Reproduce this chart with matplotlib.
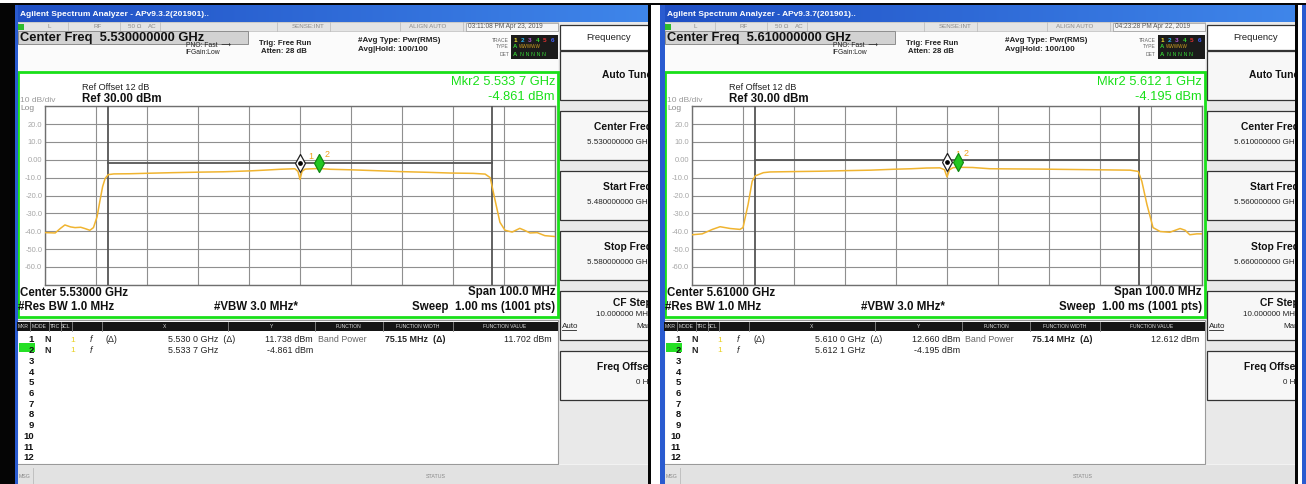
import numpy as np
import matplotlib
matplotlib.use("Agg")
import matplotlib.pyplot as plt
from matplotlib.patches import Rectangle
from matplotlib.colors import LinearSegmentedColormap

plt.rcParams['font.family'] = ['Liberation Sans', 'DejaVu Sans']

W, H = 1306, 484
DX = 647          # horizontal shift of the second screenshot (px)

center_ghz  = [5.530, 5.610]
start_ghz   = ["5.480000000 GHz", "5.560000000 GHz"]
stop_ghz    = ["5.580000000 GHz", "5.660000000 GHz"]
span_mhz    = 100.0
versions    = ["APv9.3.2(201901)..", "APv9.3.7(201901).."]
timestamps  = ["03:11:08 PM Apr 23, 2019", "04:23:28 PM Apr 22, 2019"]
mkr1_x      = ["5.530 0 GHz", "5.610 0 GHz"]
mkr1_y      = ["11.738 dBm", "12.660 dBm"]
mkr2_x      = ["5.533 7 GHz", "5.612 1 GHz"]
mkr2_ghz    = [5.5337, 5.6121]
mkr2_dbm    = [-4.861, -4.195]
bp_width    = [75.15, 75.14]
bp_value    = [11.702, 12.612]
bp_line_dbm = [-1.8, -0.3]

# trace: offset from start frequency (MHz) and level (dBm)
left_off = [0, 1, 2, 3, 3.9, 5, 5.9, 7, 7.8, 8.8, 9.5, 10.2, 10.8, 11.3, 11.8,
            12.4, 13.5, 16.7, 20.6, 25, 30.4, 35, 40.2, 43, 46.1, 49, 49.6, 50,
            50.4, 51, 53.7, 55.9, 60, 65, 69.6, 75, 79.4, 84, 86.3, 87.3, 88.2,
            89.2, 90.2, 91.6, 93.1, 94, 95.1, 96.5, 98, 100]
left_dbm = [-40.8, -40.9, -41.0, -38.5, -36.5, -37.6, -38.0, -37.8, -38.5, -39.5,
            -38.0, -32, -22.5, -15, -10.4, -8.3, -7.9, -7.8, -7.5, -7.2, -6.9,
            -6.7, -6.2, -5.8, -5.3, -5.0, -6.5, -11.0, -6.5, -5.2, -4.86, -5.3,
            -5.6, -6.1, -6.6, -7.0, -7.4, -7.6, -8.0, -10.0, -22, -35, -39.5,
            -40.5, -38.4, -39.5, -41, -40.8, -42.5, -43]
right_off = [0, 2, 4, 5.5, 7.5, 9.4, 10, 11, 11.8, 12.4, 14, 15.3, 19.8, 25, 29.6,
             35, 39.4, 43, 46, 48.6, 49.5, 50, 50.5, 51.2, 52.1, 55, 58.4, 63,
             68.2, 74, 80, 85.9, 87.5, 88.2, 89.2, 90.4, 91.8, 93.7, 95.7, 96.7,
             97.6, 99, 100]
right_dbm = [-42, -41.5, -39, -37.5, -38.5, -39, -38, -25, -12, -9, -7.2, -6.8,
             -6.6, -6.4, -6.1, -5.8, -5.3, -5.0, -4.6, -4.5, -5.5, -9.6, -5.5,
             -4.4, -4.195, -4.3, -5.0, -5.1, -5.2, -5.4, -5.6, -5.8, -6.5, -12,
             -25, -38, -40.2, -40.6, -38.5, -39.5, -42, -41.5, -41.5]
traces = [(left_off, left_dbm), (right_off, right_dbm)]

REF, DIV = 30.0, 10.0
TRACE_C = "#f0b430"
GREEN = "#19e019"

fig = plt.figure(figsize=(W / 100, H / 100), dpi=100)
fig.patch.set_facecolor("white")
ax = fig.add_axes([0, 0, 1, 1])
ax.set_xlim(0, W)
ax.set_ylim(H, 0)
ax.axis("off")

title_cmap = LinearSegmentedColormap.from_list("tb", ["#1f4fc4", "#3f86ea"])


def rect(x0, y0, x1, y1, fc="none", ec="none", lw=0.8, z=1):
    ax.add_patch(Rectangle((x0, y0), x1 - x0, y1 - y0, fc=fc, ec=ec, lw=lw, zorder=z))


def txt(x, y, s, size, z=5, **kw):
    kw.setdefault("va", "center")
    ax.text(x, y, s, fontsize=size, zorder=z, **kw)


def draw_screen(i, ox):
    # window title bar
    grad = np.linspace(0, 1, 256).reshape(1, -1)
    ax.imshow(grad, extent=(ox + 15, ox + 650, 22, 5), cmap=title_cmap, aspect="auto", zorder=1)
    txt(ox + 20, 14, "Agilent Spectrum Analyzer - " + versions[i], 6.0, color="white", weight="bold")
    # screen body
    rect(ox + 15, 22, ox + 650, H, fc="#f2f2f2", z=0.5)
    rect(ox + 15, 5, ox + 18, H, fc="#2a5bd0", z=2)
    # status row
    rect(ox + 18, 22, ox + 558, 31, fc="#e4e4e4", ec="#bdbdbd", lw=0.5)
    rect(ox + 18, 23.5, ox + 24, 29.5, fc="#2dbb2d", z=2)
    for sx in [68, 120, 160, 277, 330, 400, 463]:
        ax.plot([ox + sx, ox + sx], [22, 31], color="#b8b8b8", lw=0.5, zorder=2)
    for sx, s in [(47, "L"), (93, "RF"), (128, "50 Ω"), (148, "AC"), (292, "SENSE:INT"), (409, "ALIGN AUTO")]:
        txt(ox + sx, 26.5, s, 4.5, color="#8a8a8a")
    rect(ox + 466, 23, ox + 558, 31, fc="#f6f6f6", ec="#9a9a9a", lw=0.5, z=2)
    txt(ox + 468, 27, timestamps[i], 4.7, color="#555555")
    # header area
    rect(ox + 17, 31, ox + 558, 71, fc="#fbfbfb", z=0.8)
    rect(ox + 18, 30.5, ox + 248, 43.5, fc="#d2d2d2", ec="#8e8e8e", lw=0.7, z=2)
    txt(ox + 20, 37.5, "Center Freq  %.9f GHz" % center_ghz[i], 9.3, weight="bold", color="#111111")
    txt(ox + 186, 45.5, "PNO: Fast  ⟶", 4.9, color="#222222")
    txt(ox + 185, 52.5, "IFGain:Low", 4.9, color="#222222")
    txt(ox + 259, 43.5, "Trig: Free Run", 5.6, weight="bold", color="#222222")
    txt(ox + 261, 51.5, "Atten: 28 dB", 5.6, weight="bold", color="#222222")
    txt(ox + 358, 40, "#Avg Type: Pwr(RMS)", 5.8, weight="bold", color="#222222")
    txt(ox + 358, 49.5, "Avg|Hold: 100/100", 5.8, weight="bold", color="#222222")
    for yy, s in [(40, "TRACE"), (47, "TYPE"), (54.5, "DET")]:
        txt(ox + 509, yy, s, 3.6, color="#666666", ha="right")
    rect(ox + 511, 35, ox + 558, 58.5, fc="#1b1b1b", z=2)
    for k, c in enumerate(["#f5e030", "#29b6f6", "#b05ad0", "#35d035", "#e03030", "#4060ff"]):
        txt(ox + 515 + 7.5 * k, 40, str(k + 1), 4.6, color=c, weight="bold", ha="center")
    txt(ox + 512.5, 47, "A", 4.3, color="#35d035", weight="bold")
    txt(ox + 519, 47, "WWWWW", 3.3, color="#d0a020")
    txt(ox + 512.5, 54.5, "A", 4.3, color="#35d035", weight="bold")
    txt(ox + 520, 54.5, "N N N N N", 3.9, color="#35d035")

    # green display frame
    rect(ox + 17.5, 72, ox + 558, 317, fc="white", ec=GREEN, lw=2.0, z=1)
    txt(ox + 82, 88, "Ref Offset 12 dB", 6.6, color="#222222")
    txt(ox + 82, 99.5, "Ref 30.00 dBm", 8.3, weight="bold", color="#111111")
    txt(ox + 20, 101, "10 dB/div", 6.0, color="#9a9a9a")
    txt(ox + 20, 108.5, "Log", 6.0, color="#8a8a8a")
    txt(ox + 555, 82, "Mkr2 " + mkr2_x[i], 9.3, color=GREEN, ha="right")
    txt(ox + 555, 97, "%.3f dBm" % mkr2_dbm[i], 9.3, color=GREEN, ha="right")
    txt(ox + 20, 292.5, "Center %.5f GHz" % center_ghz[i], 8.3, weight="bold", color="#111111")
    txt(ox + 18, 307, "#Res BW 1.0 MHz", 8.3, weight="bold", color="#111111")
    txt(ox + 214, 307, "#VBW 3.0 MHz*", 8.3, weight="bold", color="#111111")
    txt(ox + 555, 292.5, "Span %.1f MHz" % span_mhz, 8.3, weight="bold", color="#111111", ha="right")
    txt(ox + 555, 307, "Sweep  1.00 ms (1001 pts)", 8.3, weight="bold", color="#111111", ha="right")

    # graticule + trace
    gl, gt, gr, gb = ox + 45, 106.3, ox + 555, 284.7
    g = fig.add_axes([gl / W, 1 - gb / H, (gr - gl) / W, (gb - gt) / H])
    g.set_facecolor("white")
    c0 = center_ghz[i] - span_mhz / 2000
    g.set_xlim(c0, c0 + span_mhz / 1000)
    g.set_ylim(REF - 10 * DIV, REF)
    g.set_xticks(c0 + np.arange(11) * span_mhz / 10000)
    yt = np.arange(REF - 10 * DIV, REF + 1, DIV)
    g.set_yticks(yt)
    g.set_yticklabels(["" if v in (REF, REF - 10 * DIV) else ("0.00" if v == 0 else "%.1f" % v) for v in yt])
    g.tick_params(length=0, labelbottom=False, labelsize=5.4, labelcolor="#a6a6a6", pad=2.0)
    g.grid(True, color="#8f8f8f", lw=0.8)
    for sp in g.spines.values():
        sp.set_color("#6f6f6f")
        sp.set_linewidth(1.0)
    # band power markers
    lo = center_ghz[i] - bp_width[i] / 2000
    hi = center_ghz[i] + bp_width[i] / 2000
    g.axvline(lo, color="#555555", lw=1.3, zorder=3)
    g.axvline(hi, color="#555555", lw=1.3, zorder=3)
    g.plot([lo, hi], [bp_line_dbm[i]] * 2, color="#555555", lw=1.3, zorder=3)
    off, dbm = traces[i]
    g.plot(c0 + np.array(off) / 1000, dbm, color=TRACE_C, lw=1.1, zorder=4)
    dia = [(0, 1), (0.55, 0), (0, -1), (-0.55, 0), (0, 1)]
    my = mkr2_dbm[i] + 3.2
    g.plot([center_ghz[i]], [my], marker=dia, ms=13, mfc="white", mec="#222222", mew=0.9, zorder=6, clip_on=False)
    g.plot([center_ghz[i]], [my], marker="o", ms=2.4, color="black", zorder=7)
    g.plot([mkr2_ghz[i]], [my], marker=dia, ms=13, mfc="#22c822", mec="#138a13", mew=0.9, zorder=6)
    g.annotate("1", (center_ghz[i], my), xytext=(6, 3), textcoords="offset points", fontsize=6.5, color="#f0a020")
    g.annotate("2", (mkr2_ghz[i], my), xytext=(4, 4), textcoords="offset points", fontsize=6.5, color="#f0a020")

    # marker table
    rect(ox + 17, 319.5, ox + 558, 463.5, fc="white", ec="#9a9a9a", lw=0.8, z=1)
    rect(ox + 17, 322, ox + 558, 330.5, fc="#151515", z=2)
    for sx in [29.5, 49, 60.5, 72, 102, 228, 315, 383, 453]:
        ax.plot([ox + sx, ox + sx], [322, 330.5], color="#8a8a8a", lw=0.6, zorder=3)
    for sx, s in [(23, "MKR"), (39, "MODE"), (55, "TRC"), (66, "SCL"), (165, "X"), (272, "Y"),
                  (349, "FUNCTION"), (418, "FUNCTION WIDTH"), (505, "FUNCTION VALUE")]:
        txt(ox + sx, 326.3, s, 3.6, color="#dddddd", ha="center")
    rect(ox + 19, 342.5, ox + 35, 352, fc="#25e025", z=2)
    row_y = 340 + 10.7 * np.arange(12)
    for k, yy in enumerate(row_y):
        txt(ox + 34, yy, str(k + 1), 6.8, weight="bold", color="#111111", ha="right")
    for yy in row_y[:2]:
        txt(ox + 44, yy, "N", 6.4, weight="bold", color="#222222")
        txt(ox + 70, yy, "1", 6.0, color="#e8d020")
        txt(ox + 90, yy, "f", 6.4, color="#222222", style="italic")
    txt(ox + 106, row_y[0], "(Δ)", 6.4, color="#222222")
    txt(ox + 168, row_y[0], mkr1_x[i] + "  (Δ)", 6.4, color="#222222")
    txt(ox + 313, row_y[0], mkr1_y[i], 6.4, color="#222222", ha="right")
    txt(ox + 318, row_y[0], "Band Power", 6.4, color="#666666")
    txt(ox + 385, row_y[0], "%.2f MHz  (Δ)" % bp_width[i], 6.4, weight="bold", color="#222222")
    txt(ox + 552, row_y[0], "%.3f dBm" % bp_value[i], 6.4, color="#222222", ha="right")
    txt(ox + 168, row_y[1], mkr2_x[i], 6.4, color="#222222")
    txt(ox + 313, row_y[1], "%.3f dBm" % mkr2_dbm[i], 6.4, color="#222222", ha="right")

    # message bar
    rect(ox + 17, 465, ox + 650, H, fc="#e2e2e2", z=1)
    txt(ox + 19, 476.5, "MSG", 3.8, color="#888888")
    txt(ox + 426, 476.5, "STATUS", 3.8, color="#888888")
    ax.plot([ox + 33, ox + 33], [468, H], color="#bbbbbb", lw=0.6, zorder=2)

    # softkey menu
    rect(ox + 559, 22, ox + 650, 464, fc="#e9e9e9", z=0.9)
    rect(ox + 560, 24.5, ox + 660, 50, fc="white", ec="#333333", lw=0.9, z=1.5)
    txt(ox + 609, 37, "Frequency", 6.8, color="#222222", ha="center")
    keys = [("Auto Tune", None), ("Center Freq", "%.9f GHz" % center_ghz[i]),
            ("Start Freq", start_ghz[i]), ("Stop Freq", stop_ghz[i]),
            ("CF Step", "10.000000 MHz"), ("Freq Offset", "0 Hz")]
    for k, (t1, t2) in enumerate(keys):
        y0 = 50 + 60 * k if k else 50
        y1 = y0 + 50
        rect(ox + 560, y0 + 1, ox + 660, y1, fc="#f7f7f7", ec="#333333", lw=0.9, z=1.5)
        if t2 is None:
            txt(ox + 652, (y0 + y1) / 2, t1, 7.4, weight="bold", color="#111111", ha="right")
        elif t1 == "CF Step":
            txt(ox + 652, y0 + 13, t1, 7.4, weight="bold", color="#111111", ha="right")
            txt(ox + 652, y0 + 24, t2, 5.8, color="#222222", ha="right")
            txt(ox + 562, y0 + 36, "Auto", 5.8, color="#222222")
            ax.plot([ox + 562, ox + 576], [y0 + 40, y0 + 40], color="#222222", lw=0.6, zorder=5)
            txt(ox + 652, y0 + 36, "Man", 5.8, color="#222222", ha="right")
        else:
            txt(ox + 652, y0 + 17, t1, 7.4, weight="bold", color="#111111", ha="right")
            txt(ox + 652, y0 + 33, t2, 5.8, color="#222222", ha="right")


for i, ox in enumerate([0, DX]):
    draw_screen(i, ox)

# screenshot borders / gaps between the two captures
rect(0, 0, 14.5, H, fc="#050505", z=20)
rect(647.5, 0, 651, H, fc="#050505", z=20)
rect(651, 0, 660, H, fc="white", z=20)
rect(660, 5, 663, H, fc="#2a5bd0", z=20)
rect(1294.5, 0, 1298, H, fc="#050505", z=20)
rect(1298, 0, 1302, H, fc="white", z=20)
rect(1302, 0, W, H, fc="#2a5bd0", z=20)
rect(0, 0, W, 3.2, fc="white", z=21)
rect(0, 3.2, W, 5.2, fc="#050505", z=21)

fig.savefig("out.png", dpi=100)
